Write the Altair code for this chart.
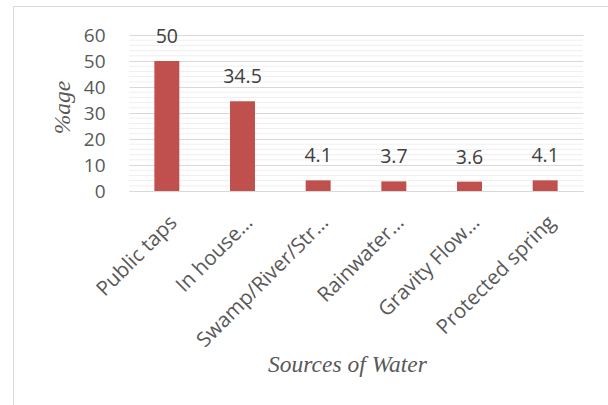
import altair as alt
import pandas as pd

# Share of households by main source of water (%)
sources = ["Public taps", "In house…", "Swamp/River/Str…", "Rainwater…",
           "Gravity Flow…", "Protected spring"]
shares = [50, 34.5, 4.1, 3.7, 3.6, 4.1]
share_labels = ["50", "34.5", "4.1", "3.7", "3.6", "4.1"]

major_ticks = [0, 10, 20, 30, 40, 50, 60]
minor_ticks = [v for v in range(0, 61, 2) if v % 10 != 0]

df = pd.DataFrame({"source": sources, "share": shares, "label": share_labels})
minor_df = pd.DataFrame({"tick": minor_ticks})
frame_df = pd.DataFrame({"k": [0]})

GRAY_TEXT = "#595959"
BAR_RED = "#C0504D"

x_axis = alt.Axis(
    title="Sources of Water",
    titleFont="Liberation Serif",
    titleFontStyle="italic",
    titleFontWeight="normal",
    titleFontSize=23.5,
    titleColor=GRAY_TEXT,
    titleX=218,
    titleY=173,
    titleAlign="center",
    titleBaseline="middle",
    labelAngle=315,
    labelAlign="right",
    labelBaseline="top",
    labelFont="Open Sans",
    labelFontSize=20.5,
    labelColor=GRAY_TEXT,
    labelPadding=21,
    labelLimit=300,
    labelOverlap=False,
    ticks=False,
    domain=True,
    domainColor="#d9d9d9",
    domainWidth=1,
    grid=False,
)

y_axis = alt.Axis(
    title="%age",
    titleFont="Liberation Serif",
    titleFontStyle="italic",
    titleFontWeight="normal",
    titleFontSize=23.5,
    titleColor=GRAY_TEXT,
    titleAngle=270,
    titleX=-67,
    titleY=72,
    titleAlign="center",
    titleBaseline="middle",
    values=major_ticks,
    labelFont="Open Sans",
    labelFontSize=19,
    labelColor=GRAY_TEXT,
    labelPadding=24,
    labelOverlap=False,
    ticks=False,
    domain=False,
    grid=True,
    gridColor="#d9d9d9",
    gridWidth=1,
)

x_scale = alt.Scale(paddingInner=0.67, paddingOuter=0.335)
y_scale = alt.Scale(domain=[0, 60], nice=False)

minor_grid = alt.Chart(minor_df).mark_rule(color="#efefef", strokeWidth=1).encode(
    y=alt.Y("tick:Q", scale=y_scale, axis=y_axis),
)

bars = alt.Chart(df).mark_bar(color=BAR_RED).encode(
    x=alt.X("source:N", sort=sources, scale=x_scale, axis=x_axis),
    y=alt.Y("share:Q", scale=y_scale, axis=y_axis),
)

labels = alt.Chart(df).mark_text(
    font="Open Sans", fontSize=19.5, color="#404040",
    baseline="alphabetic", dy=-18,
).encode(
    x=alt.X("source:N", sort=sources, scale=x_scale, axis=x_axis),
    y=alt.Y("share:Q", scale=y_scale, axis=y_axis),
    text="label:N",
)

# thin frame around the chart area (left and top edges)
frame_left = alt.Chart(frame_df).mark_rule(color="#d9d9d9", strokeWidth=1).encode(
    x=alt.value(-115.5), y=alt.value(-29), y2=alt.value(380),
)
frame_top = alt.Chart(frame_df).mark_rule(color="#d9d9d9", strokeWidth=1).encode(
    x=alt.value(-116), x2=alt.value(480), y=alt.value(-28.5),
)

chart = alt.layer(minor_grid, bars, labels, frame_left, frame_top).properties(
    width=454,
    height=156,
    autosize=alt.AutoSizeParams(type="none"),
    padding={"left": 129, "top": 35, "right": 25, "bottom": 214},
    background="white",
).configure_view(stroke=None)

chart.save("out.html", embed_options={"renderer": "svg", "actions": False})
